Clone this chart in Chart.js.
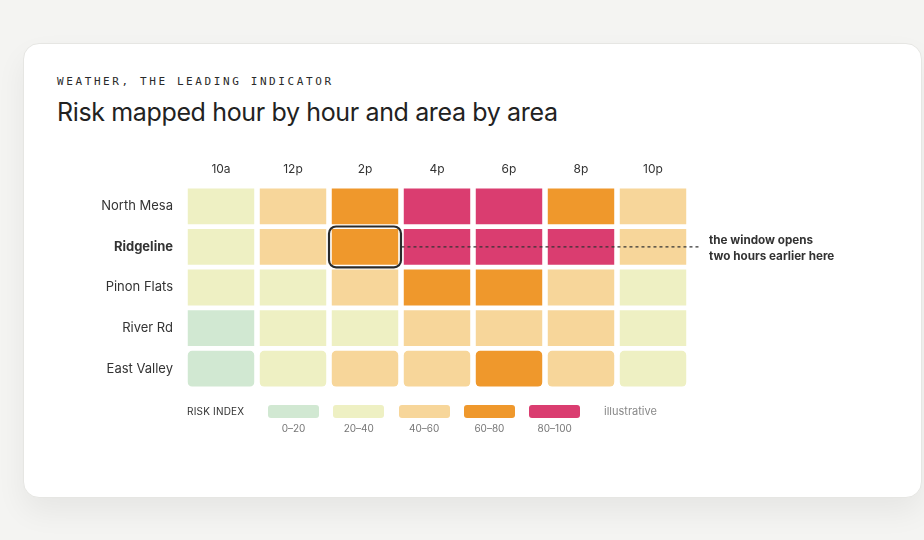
<!DOCTYPE html>
<html>
<head>
<meta charset="utf-8">
<script src="https://cdn.jsdelivr.net/npm/chart.js@4/dist/chart.umd.min.js"></script>
<style>
  html, body { margin: 0; padding: 0; }
  body { width: 924px; height: 540px; background: #f4f4f2; position: relative; overflow: hidden; font-family: Inter, "Noto Sans", sans-serif; }
  .card { position: absolute; left: 23px; top: 43px; width: 897px; height: 453px; background: #fff; border: 1px solid #e6e6e3; border-radius: 16px; box-shadow: 0 14px 30px rgba(0,0,0,0.06); }
  .eyebrow { position: absolute; left: 57px; top: 75px; font-family: "DejaVu Sans Mono", monospace; font-size: 11px; letter-spacing: 2.6px; color: #2a2a2a; }
  .title { position: absolute; left: 57px; top: 97px; font-size: 25px; color: #222; letter-spacing: -0.36px; white-space: nowrap; }
  canvas#heat { position: absolute; left: 0; top: 0; }
  .note { position: absolute; left: 709px; top: 232px; font-size: 11.7px; font-weight: 700; color: #333; line-height: 16px; white-space: nowrap; }
  .legend { position: absolute; left: 0; top: 0; font-size: 10px; }
  .lg-title { position: absolute; left: 187px; top: 405px; font-size: 10px; color: #333; letter-spacing: 0.2px; white-space: nowrap; }
  .sw { position: absolute; top: 405px; width: 51px; height: 13px; border-radius: 3px; }
  .sw-lbl { position: absolute; top: 422px; width: 51px; text-align: center; font-size: 10px; color: #777; white-space: nowrap; }
  .illus { position: absolute; left: 604px; top: 404px; font-size: 11px; color: #888; }
</style>
</head>
<body>
<div class="card"></div>
<div class="eyebrow">WEATHER, THE LEADING INDICATOR</div>
<div class="title">Risk mapped hour by hour and area by area</div>
<canvas id="heat" width="924" height="540"></canvas>
<div class="note">the window opens<br>two hours earlier here</div>
<div class="legend" id="legend"></div>
<script>
// hours across, areas down
const hours = ['10a', '12p', '2p', '4p', '6p', '8p', '10p'];
const areas = ['North Mesa', 'Ridgeline', 'Pinon Flats', 'River Rd', 'East Valley'];

// risk index per area, one value per hour
const northMesa  = [32, 48, 68, 86, 91, 74, 52];
const ridgeline  = [34, 55, 72, 88, 93, 85, 47];
const pinonFlats = [28, 36, 44, 66, 70, 50, 30];
const riverRd    = [14, 26, 33, 42, 46, 41, 27];
const eastValley = [12, 24, 41, 45, 63, 43, 25];
const riskRows = [northMesa, ridgeline, pinonFlats, riverRd, eastValley];

// legend bins
const binLabels = ['0\u201320', '20\u201340', '40\u201360', '60\u201380', '80\u2013100'];
const binColors = ['#d1e8d2', '#eef0c3', '#f7d69a', '#ef982c', '#da3d70'];

// highlighted cell: Ridgeline at 2p
const focusArea = 'Ridgeline';
const focusHour = '2p';

function binColor(v) {
  let i = Math.min(Math.floor(v / 20), binColors.length - 1);
  return binColors[i];
}

const rowGap = 2.4;

// each area is one stacked slot of height 1; colour comes from the risk value
let datasets = areas.map((area, r) => {
  return {
    label: area,
    data: riskRows[r].map(() => 1),
    risk: riskRows[r],
    backgroundColor: riskRows[r].map(binColor),
    borderColor: '#ffffff',
    borderWidth: { top: rowGap, bottom: rowGap, left: 0, right: 0 },
    borderSkipped: false,
    borderRadius: 7,
    barPercentage: 0.93,
    categoryPercentage: 1,
    inflateAmount: 0
  };
});

// outline around the focus cell plus the dashed pointer to the note
const focusPlugin = {
  id: 'focus',
  afterDatasetsDraw(chart) {
    let r = areas.indexOf(focusArea), c = hours.indexOf(focusHour);
    let el = chart.getDatasetMeta(r).data[c];
    let top = Math.min(el.y, el.base) + rowGap, bottom = Math.max(el.y, el.base) - rowGap;
    let left = el.x - el.width / 2, right = el.x + el.width / 2;
    let ctx = chart.ctx;
    ctx.save();
    // dashed line
    let cy = (top + bottom) / 2;
    ctx.strokeStyle = '#333';
    ctx.lineWidth = 1.2;
    ctx.setLineDash([3, 3]);
    ctx.beginPath();
    ctx.moveTo(right + 3, cy);
    ctx.lineTo(chart.chartArea.right + 12, cy);
    ctx.stroke();
    // outline
    ctx.setLineDash([]);
    ctx.strokeStyle = '#2a2a2a';
    ctx.lineWidth = 2.2;
    ctx.beginPath();
    ctx.roundRect(left - 2.5, top - 2.5, right - left + 5, bottom - top + 5, 7);
    ctx.stroke();
    ctx.restore();
  }
};

var ctx = document.getElementById('heat').getContext('2d');
var chart = new Chart(ctx, {
  type: 'bar',
  data: { labels: hours, datasets: datasets },
  plugins: [focusPlugin],
  options: {
    responsive: false,
    animation: false,
    layout: { padding: { left: 85, right: 235, top: 156, bottom: 151 } },
    plugins: { legend: { display: false }, tooltip: { enabled: false } },
    scales: {
      x: {
        position: 'top',
        stacked: true,
        grid: { display: false, drawTicks: false },
        border: { display: false },
        ticks: { color: '#333', font: { family: 'Inter', size: 12 }, padding: 9 },
        afterFit(s) { s.height = 30; }
      },
      y: {
        display: false,
        stacked: true,
        reverse: true,
        min: 0,
        max: areas.length
      },
      area: {
        type: 'category',
        labels: areas,
        position: 'left',
        offset: true,
        grid: { display: false, drawTicks: false },
        border: { display: false },
        ticks: {
          color: '#333',
          padding: 12,
          font: (c) => ({ family: 'Inter', size: 13, weight: areas[c.index] === focusArea ? '700' : '400' })
        },
        afterFit(s) { s.width = 100; }
      }
    }
  }
});

// legend row under the grid
let legend = document.getElementById('legend');
let html = '<div class="lg-title">RISK INDEX</div>';
binColors.forEach((col, i) => {
  let x = 268 + i * 65.3;
  html += '<div class="sw" style="left:' + x + 'px;background:' + col + '"></div>';
  html += '<div class="sw-lbl" style="left:' + x + 'px">' + binLabels[i] + '</div>';
});
html += '<div class="illus">illustrative</div>';
legend.innerHTML = html;
</script>
</body>
</html>
